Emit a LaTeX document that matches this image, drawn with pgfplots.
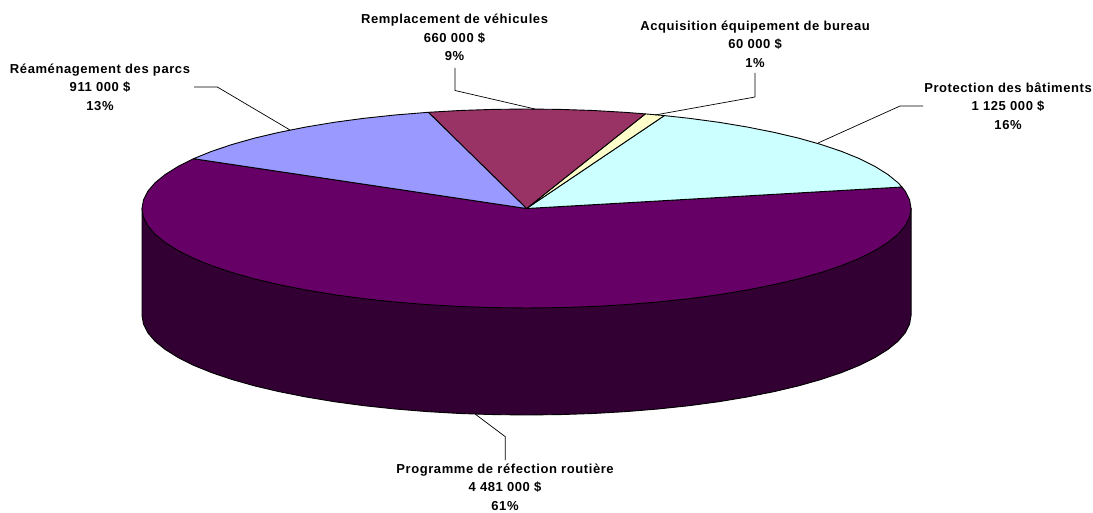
\documentclass[border=0pt]{standalone}
\usepackage{fontspec}
\setmainfont[LetterSpace=4.5]{Liberation Sans}
\usepackage{pgfplots}
\pgfplotsset{compat=1.18}
\definecolor{topP}{HTML}{660066}
\definecolor{sideP}{HTML}{330033}
\definecolor{lav}{HTML}{9999FF}
\definecolor{mar}{HTML}{993366}
\definecolor{yel}{HTML}{FFFFCC}
\definecolor{cya}{HTML}{CCFFFF}
\tikzset{lab/.style={font=\fontsize{13}{18.5}\selectfont\bfseries,align=center,anchor=center,inner sep=0pt}}
\begin{document}
\begin{tikzpicture}
\path[use as bounding box] (0,0) rectangle (1093pt,512pt);
\begin{axis}[
  at={(0,0)},anchor=south west,
  width=1093pt,height=512pt,scale only axis,hide axis,
  xmin=-526.5,xmax=566.5,ymin=-303.5,ymax=208.5,
  clip=false,
  every axis plot/.append style={no markers,line join=round},
]
% side
\addplot[fill=sideP,draw=black,line width=0.9pt] coordinates {
(-384.5,0)(-384.5,-107)(-383,-115.7)(-378.7,-124.3)(-371.4,-132.8)(-361.3,-141)(-348.5,-149)(-333,-156.8)(-315,-164.1)(-294.5,-171)(-271.9,-177.4)(-247.2,-183.2)(-220.5,-188.5)(-192.3,-193.2)(-162.5,-197.2)(-131.5,-200.5)(-99.5,-203.1)(-66.7,-205)(-33.5,-206.1)(0,-206.5)(33.5,-206.1)(66.7,-205)(99.5,-203.1)(131.5,-200.5)(162.5,-197.2)(192.3,-193.2)(220.5,-188.5)(247.2,-183.2)(271.9,-177.4)(294.5,-171)(315,-164.1)(333,-156.8)(348.5,-149)(361.3,-141)(371.4,-132.8)(378.7,-124.3)(383,-115.7)(384.5,-107)(384.5,0)
} -- cycle;
% purple top
\addplot[fill=topP,draw=black,line width=0.9pt] coordinates {
(0,0)(-333,49.8)(-348.5,42)(-361.3,34)(-371.4,25.8)(-378.7,17.3)(-383,8.7)(-384.5,0)(-383,-8.7)(-378.7,-17.3)(-371.4,-25.8)(-361.3,-34)(-348.5,-42)(-333,-49.8)(-315,-57.1)(-294.5,-64)(-271.9,-70.4)(-247.2,-76.2)(-220.5,-81.5)(-192.3,-86.2)(-162.5,-90.2)(-131.5,-93.5)(-99.5,-96.1)(-66.7,-98)(-33.5,-99.1)(0,-99.5)(33.5,-99.1)(66.7,-98)(99.5,-96.1)(131.5,-93.5)(162.5,-90.2)(192.3,-86.2)(220.5,-81.5)(247.2,-76.2)(271.9,-70.4)(294.5,-64)(315,-57.1)(333,-49.8)(348.5,-42)(361.3,-34)(371.4,-25.8)(378.7,-17.3)(383,-8.7)(384.5,0)(383,8.7)(378.7,17.3)(375.4,21.5)
} -- cycle;
% cyan
\addplot[fill=cya,draw=black,line width=0.9pt] coordinates {
(0,0)(375.4,21.5)(371.4,25.8)(361.3,34)(348.5,42)(333,49.8)(315,57.1)(294.5,64)(271.9,70.4)(247.2,76.2)(220.5,81.5)(192.3,86.2)(162.5,90.2)(137.8,92.9)
} -- cycle;
% yellow
\addplot[fill=yel,draw=black,line width=0.9pt] coordinates {
(0,0)(137.8,92.9)(118.8,94.6)
} -- cycle;
% maroon
\addplot[fill=mar,draw=black,line width=0.9pt] coordinates {
(0,0)(118.8,94.6)(99.5,96.1)(66.7,98)(33.5,99.1)(0,99.5)(-33.5,99.1)(-66.7,98)(-98.2,96.2)
} -- cycle;
% lavender
\addplot[fill=lav,draw=black,line width=0.9pt] coordinates {
(0,0)(-98.2,96.2)(-131.5,93.5)(-162.5,90.2)(-192.3,86.2)(-220.5,81.5)(-247.2,76.2)(-271.9,70.4)(-294.5,64)(-315,57.1)(-333,49.8)
} -- cycle;
% leaders
\addplot[black,line width=0.7pt] coordinates {(-332.5,121.5)(-309.2,121.5)(-236.5,78.5)};
\addplot[black,line width=0.7pt] coordinates {(-71.5,140.5)(-71.5,118)(8.5,99.5)};
\addplot[black,line width=0.7pt] coordinates {(228.5,135.5)(228.5,111.5)(128.5,93.5)};
\addplot[black,line width=0.7pt] coordinates {(396.5,102.5)(373.5,102.5)(291.5,65.5)};
\addplot[black,line width=0.7pt] coordinates {(-51.5,-205.5)(-21.2,-228.2)(-21.2,-251.5)};
% labels
\node[lab] at (axis cs:-426.5,121.5) {Réaménagement des parcs\\911 000 \$\\13\%};
\node[lab] at (axis cs:-72,171) {Remplacement de véhicules\\660 000 \$\\9\%};
\node[lab] at (axis cs:228.5,164.5) {Acquisition équipement de bureau\\60 000 \$\\1\%};
\node[lab] at (axis cs:481.5,102.5) {Protection des bâtiments\\1 125 000 \$\\16\%};
\node[lab] at (axis cs:-21.5,-278.5) {Programme de réfection routière\\4 481 000 \$\\61\%};
\end{axis}
\end{tikzpicture}
\end{document}
